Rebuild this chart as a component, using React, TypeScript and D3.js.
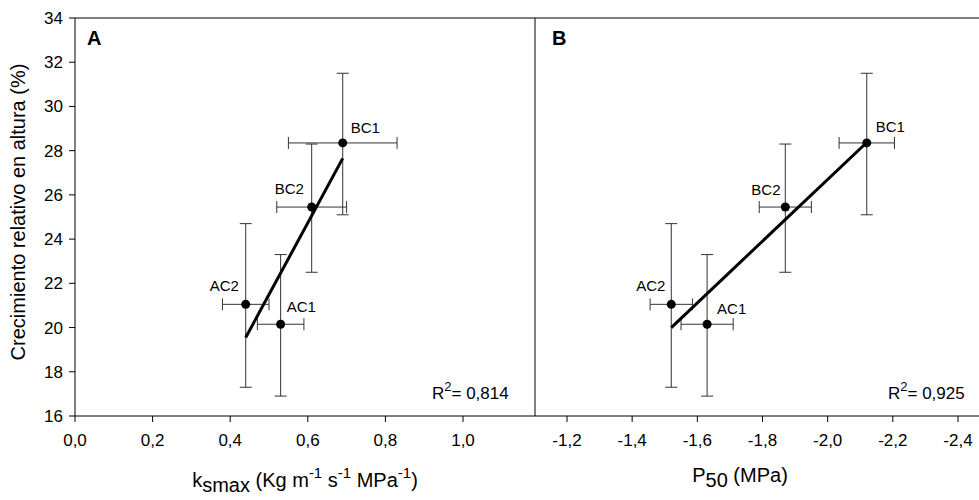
import React from "react";
import * as d3 from "d3";

const labels = ["BC1", "BC2", "AC2", "AC1"];
const growth = [28.35, 25.45, 21.05, 20.15];
const growthLo = [25.1, 22.5, 17.3, 16.9];
const growthHi = [31.5, 28.3, 24.7, 23.3];

const ksmax = [0.69, 0.61, 0.44, 0.53];
const ksmaxLo = [0.55, 0.52, 0.38, 0.47];
const ksmaxHi = [0.83, 0.7, 0.5, 0.59];
const fitA: [number, number][] = [[0.44, 19.55], [0.69, 27.65]];

const p50 = [-2.12, -1.87, -1.52, -1.63];
const p50Lo = [-2.035, -1.79, -1.455, -1.55];
const p50Hi = [-2.205, -1.95, -1.585, -1.71];
const fitB: [number, number][] = [[-1.52, 20.0], [-2.115, 28.3]];

const yTicks = [16, 18, 20, 22, 24, 26, 28, 30, 32, 34];
const xTicksA = [0, 0.2, 0.4, 0.6, 0.8, 1.0];
const xTicksB = [-1.2, -1.4, -1.6, -1.8, -2.0, -2.2, -2.4];

const font = "'Liberation Sans', Arial, sans-serif";
const fmt = (d: number) => d.toFixed(1).replace(".", ",");

const y = d3.scaleLinear().domain([16, 34]).range([416, 18]);
const xA = d3.scaleLinear().domain([0, 1.0]).range([75, 463]);
const xB = d3.scaleLinear().domain([-1.2, -2.4]).range([567, 958]);

function Panel({ x, xs, lo, hi, fit, letter, r2, labelOff }: any) {
  const line = d3.line<[number, number]>().x((d) => x(d[0])).y((d) => y(d[1]));
  const cap = 6;
  return (
    <g>
      {xs.map((v: number, i: number) => (
        <g key={i} stroke="#333" strokeWidth={1}>
          <line x1={x(v)} x2={x(v)} y1={y(growthLo[i])} y2={y(growthHi[i])} />
          <line x1={x(v) - cap} x2={x(v) + cap} y1={y(growthLo[i])} y2={y(growthLo[i])} />
          <line x1={x(v) - cap} x2={x(v) + cap} y1={y(growthHi[i])} y2={y(growthHi[i])} />
          <line x1={x(lo[i])} x2={x(hi[i])} y1={y(growth[i])} y2={y(growth[i])} />
          <line x1={x(lo[i])} x2={x(lo[i])} y1={y(growth[i]) - cap} y2={y(growth[i]) + cap} />
          <line x1={x(hi[i])} x2={x(hi[i])} y1={y(growth[i]) - cap} y2={y(growth[i]) + cap} />
        </g>
      ))}
      <path d={line(fit) || ""} stroke="#000" strokeWidth={3} fill="none" />
      {xs.map((v: number, i: number) => (
        <g key={i}>
          <circle cx={x(v)} cy={y(growth[i])} r={4.5} fill="#000" />
          <text x={x(v) + labelOff[i][0]} y={y(growth[i]) + labelOff[i][1]} fontSize={15} fontFamily={font}>
            {labels[i]}
          </text>
        </g>
      ))}
      {letter}
      {r2}
    </g>
  );
}

export default function App() {
  const offA = [[8, -10], [-37, -13], [-36, -13], [6, -12]];
  const offB = [[9, -11], [-34, -12], [-35, -13], [10, -10]];
  return (
    <svg width={979} height={500} style={{ position: "absolute", left: 0, top: 0 }}>
      <rect width={979} height={500} fill="#fff" />
      <line x1={75} x2={979} y1={18} y2={18} stroke="#000" />
      <line x1={75} x2={979} y1={416} y2={416} stroke="#000" />
      <line x1={75} x2={75} y1={18} y2={416} stroke="#000" />
      <line x1={535} x2={535} y1={18} y2={416} stroke="#000" />
      {yTicks.map((t) => (
        <g key={t}>
          <line x1={69} x2={75} y1={y(t)} y2={y(t)} stroke="#000" />
          <text x={63} y={y(t) + 6} textAnchor="end" fontSize={17} fontFamily={font}>{t}</text>
        </g>
      ))}
      {xTicksA.map((t) => (
        <g key={t}>
          <line x1={xA(t)} x2={xA(t)} y1={416} y2={422} stroke="#000" />
          <text x={xA(t)} y={446} textAnchor="middle" fontSize={17} fontFamily={font}>{fmt(t)}</text>
        </g>
      ))}
      {xTicksB.map((t) => (
        <g key={t}>
          <line x1={xB(t)} x2={xB(t)} y1={416} y2={422} stroke="#000" />
          <text x={xB(t)} y={446} textAnchor="middle" fontSize={17} fontFamily={font}>{fmt(t)}</text>
        </g>
      ))}
      <text transform="translate(25,212) rotate(-90)" textAnchor="middle" fontSize={20} fontFamily={font}>
        Crecimiento relativo en altura (%)
      </text>
      <text x={305} y={487} textAnchor="middle" fontSize={20} fontFamily={font}>
        k<tspan dy={5}>smax</tspan>
        <tspan dy={-5}> (Kg m</tspan><tspan fontSize={15} dy={-9}>-1</tspan>
        <tspan dy={9}> s</tspan><tspan fontSize={15} dy={-9}>-1</tspan>
        <tspan dy={9}> MPa</tspan><tspan fontSize={15} dy={-9}>-1</tspan>
        <tspan dy={9}>)</tspan>
      </text>
      <text x={740} y={482} textAnchor="middle" fontSize={20} fontFamily={font}>
        P<tspan dy={5}>50</tspan><tspan dy={-5}> (MPa)</tspan>
      </text>
      <Panel x={xA} xs={ksmax} lo={ksmaxLo} hi={ksmaxHi} fit={fitA} labelOff={offA}
        letter={<text x={87} y={45} fontSize={20} fontWeight="bold" fontFamily={font}>A</text>}
        r2={<text x={432} y={399} fontSize={17} fontFamily={font}>R<tspan fontSize={13} dy={-8}>2</tspan><tspan dy={8}>= 0,814</tspan></text>} />
      <Panel x={xB} xs={p50} lo={p50Lo} hi={p50Hi} fit={fitB} labelOff={offB}
        letter={<text x={552} y={45} fontSize={20} fontWeight="bold" fontFamily={font}>B</text>}
        r2={<text x={888} y={399} fontSize={17} fontFamily={font}>R<tspan fontSize={13} dy={-8}>2</tspan><tspan dy={8}>= 0,925</tspan></text>} />
    </svg>
  );
}
